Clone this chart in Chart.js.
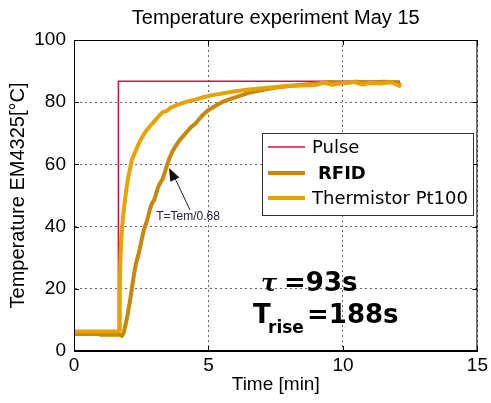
<!DOCTYPE html>
<html>
<head>
<meta charset="utf-8">
<script src="https://cdn.jsdelivr.net/npm/chart.js@4.4.1/dist/chart.umd.min.js"></script>
<style>
  html, body { margin: 0; padding: 0; background: #fff; }
</style>
</head>
<body>
<canvas id="chart" width="491" height="403"></canvas>
<script>
// -> Messdaten (Zeit in min, Temperatur in °C)
const pulseTime = [0, 1.65, 1.65, 12.1];
const pulseTemp = [6, 6, 86.7, 86.7];

const rfidTime = [0, 0.9, 1.0, 1.7, 1.78, 1.85, 1.92, 2.0, 2.08, 2.15, 2.22, 2.3, 2.38, 2.45, 2.52, 2.6,
  2.68, 2.75, 2.82, 2.9, 2.98, 3.05, 3.12, 3.2, 3.28, 3.36, 3.45, 3.55, 3.65, 3.75, 3.9, 4.05, 4.2,
  4.35, 4.5, 4.65, 4.8, 5.0, 5.25, 5.5, 5.8, 6.1, 6.5, 7.0, 7.5, 8.0, 8.5, 9.0, 9.5, 10.0, 10.5,
  11.0, 11.5, 12.0, 12.1];
const rfidTemp = [5.5, 5.5, 5.2, 5.2, 4.8, 6, 8.5, 12, 16, 20, 24, 28, 30.5, 33, 36, 39,
  41, 43, 45.5, 47.5, 48.5, 50.5, 52.5, 54, 55, 57, 59.5, 62, 64, 65.5, 67.5, 69, 70.5,
  72, 73, 74.5, 76, 77.5, 78.8, 80, 81, 81.9, 83, 83.9, 84.7, 85.2, 85.6, 86, 86.5, 86.2, 86.6,
  86.3, 86.6, 86.4, 85.8];

const thermTime = [0, 0.8, 1.6, 1.68, 1.7, 1.72, 1.75, 1.8, 1.86, 1.93, 2.0, 2.08, 2.15, 2.25, 2.35,
  2.45, 2.55, 2.7, 2.85, 3.0, 3.15, 3.3, 3.45, 3.6, 3.8, 4.0, 4.2, 4.5, 4.8, 5.1, 5.5, 6.0, 6.5,
  7.0, 7.5, 8.0, 8.5, 9.0, 9.3, 9.6, 10.0, 10.4, 10.7, 11.0, 11.4, 11.8, 12.1];
const thermTemp = [6.3, 6.3, 6.3, 6.5, 18, 28, 35, 41, 46, 51, 55, 58.5, 61.5, 63.5, 65.5,
  67.5, 69, 71, 72.5, 74, 75.5, 76.8, 77.2, 78.3, 79, 79.6, 80.2, 80.8, 81.6, 82.2, 82.8, 83.5, 84.1,
  84.5, 84.9, 85.3, 85.4, 85.6, 86.3, 85.6, 86.1, 86.6, 85.7, 86.2, 86.0, 86.4, 85.2];

const xTicks = [0, 5, 10, 15];
const yTicks = [0, 20, 40, 60, 80, 100];

const seriesNames = ["Pulse", "RFID", "Thermistor Pt100"];
const seriesColors = ["rgb(200, 20, 70)", "rgb(200, 135, 10)", "rgb(230, 163, 0)"];
const chartTitle = "Temperature experiment May 15";

function toPoints(xs, ys) {
  return xs.map((x, i) => ({ x: x, y: ys[i] }));
}

// -> Titel, Rahmen, Legende, Pfeil und Kennwerte direkt aufs Canvas
const extras = {
  id: "extras",
  afterDraw(chart) {
    const ctx = chart.ctx;
    const a = chart.chartArea;
    const sx = chart.scales.x;
    const sy = chart.scales.y;
    ctx.save();

    // Titel über der Achsenfläche
    ctx.fillStyle = "#000";
    ctx.font = "20px 'Liberation Sans'";
    ctx.textAlign = "center";
    ctx.textBaseline = "middle";
    ctx.fillText(chartTitle, (a.left + a.right) / 2, 18);

    // Rahmen oben/rechts
    ctx.strokeStyle = "#000";
    ctx.lineWidth = 1;
    ctx.strokeRect(a.left + 0.5, a.top + 0.5, a.right - a.left - 1, a.bottom - a.top - 1);

    // kurze Ticks nach innen
    ctx.beginPath();
    xTicks.forEach((v) => {
      const px = Math.round(sx.getPixelForValue(v)) + 0.5;
      ctx.moveTo(px, a.bottom); ctx.lineTo(px, a.bottom - 5);
      ctx.moveTo(px, a.top); ctx.lineTo(px, a.top + 5);
    });
    yTicks.forEach((v) => {
      const py = Math.round(sy.getPixelForValue(v)) + 0.5;
      ctx.moveTo(a.left, py); ctx.lineTo(a.left + 5, py);
      ctx.moveTo(a.right, py); ctx.lineTo(a.right - 5, py);
    });
    ctx.stroke();

    // Legende
    ctx.fillStyle = "#fff";
    ctx.fillRect(262, 133, 211, 82);
    ctx.strokeStyle = "#333";
    ctx.strokeRect(262.5, 133.5, 211, 82);
    const rows = [147, 173, 198];
    const widths = [1.5, 4, 4];
    ctx.textBaseline = "middle";
    ctx.textAlign = "left";
    for (let i = 0; i < 3; i++) {
      ctx.strokeStyle = seriesColors[i];
      ctx.lineWidth = widths[i];
      ctx.beginPath();
      ctx.moveTo(268, rows[i]);
      ctx.lineTo(305, rows[i]);
      ctx.stroke();
      ctx.fillStyle = "#000";
      if (i === 1) {
        ctx.font = "bold 18px 'DejaVu Sans'";
        ctx.fillText(seriesNames[i], 318, rows[i] + 1);
      } else {
        ctx.font = "18px 'DejaVu Sans'";
        ctx.fillText(seriesNames[i], 312, rows[i] + 1);
      }
    }

    // Pfeil zur Zeitkonstante
    ctx.strokeStyle = "#222";
    ctx.fillStyle = "#111";
    ctx.lineWidth = 1;
    ctx.beginPath();
    ctx.moveTo(190, 210);
    ctx.lineTo(172, 172);
    ctx.stroke();
    const ang = Math.atan2(168 - 210, 169 - 190);
    ctx.beginPath();
    ctx.moveTo(169, 168);
    ctx.lineTo(169 - 13 * Math.cos(ang) + 5 * Math.sin(ang), 168 - 13 * Math.sin(ang) - 5 * Math.cos(ang));
    ctx.lineTo(169 - 13 * Math.cos(ang) - 5 * Math.sin(ang), 168 - 13 * Math.sin(ang) + 5 * Math.cos(ang));
    ctx.closePath();
    ctx.fill();
    ctx.font = "12px 'Liberation Sans'";
    ctx.fillStyle = "#223";
    ctx.textAlign = "center";
    ctx.fillText("T=Tem/0.68", 188, 217);

    // Kennwerte
    ctx.textAlign = "left";
    ctx.textBaseline = "alphabetic";
    ctx.fillStyle = "#000";
    ctx.font = "italic bold 24px 'DejaVu Serif'";
    ctx.fillText("τ", 261, 291);
    ctx.font = "bold 26px 'DejaVu Sans'";
    ctx.fillText("=93s", 284, 291);
    ctx.fillText("T", 253, 323);
    ctx.font = "bold 17px 'DejaVu Sans'";
    ctx.fillText("rise", 268, 333);
    ctx.font = "bold 26px 'DejaVu Sans'";
    ctx.fillText("=188s", 307, 323);

    ctx.restore();
  }
};

const tickFont = { family: "'Liberation Sans', Arial", size: 19 };

const chart = new Chart(document.querySelector("#chart"), {
  type: "line",
  data: {
    datasets: [
      {
        label: seriesNames[0],
        data: toPoints(pulseTime, pulseTemp),
        borderColor: seriesColors[0],
        borderWidth: 1.5,
        order: 3
      },
      {
        label: seriesNames[1],
        data: toPoints(rfidTime, rfidTemp),
        borderColor: seriesColors[1],
        borderWidth: 4,
        order: 2
      },
      {
        label: seriesNames[2],
        data: toPoints(thermTime, thermTemp),
        borderColor: seriesColors[2],
        borderWidth: 4,
        order: 1
      }
    ]
  },
  options: {
    responsive: false,
    animation: false,
    devicePixelRatio: 1,
    elements: {
      point: { radius: 0 },
      line: { tension: 0, borderJoinStyle: "round", borderCapStyle: "round" }
    },
    layout: { padding: { left: 0, right: 12, top: 40, bottom: 0 } },
    plugins: {
      legend: { display: false },
      tooltip: { enabled: false },
      title: { display: false }
    },
    scales: {
      x: {
        type: "linear",
        min: 0,
        max: 15,
        afterBuildTicks: (s) => { s.ticks = xTicks.map((v) => ({ value: v })); },
        afterFit: (s) => { s.height = 52; },
        ticks: { color: "#000", font: tickFont, padding: 3, maxRotation: 0 },
        grid: { color: "#666", drawTicks: false, lineWidth: 1 },
        border: { display: true, color: "#000", dash: [2, 3] },
        title: {
          display: true,
          text: "Time [min]",
          color: "#000",
          font: { family: "'Liberation Sans', Arial", size: 19, lineHeight: 1.2 },
          padding: { top: 0, bottom: 7 }
        }
      },
      y: {
        min: 0,
        max: 100,
        afterBuildTicks: (s) => { s.ticks = yTicks.map((v) => ({ value: v })); },
        afterFit: (s) => { s.width = 74; },
        ticks: { color: "#000", font: tickFont, padding: 8 },
        grid: { color: "#666", drawTicks: false, lineWidth: 1 },
        border: { display: true, color: "#000", dash: [2, 3] },
        title: {
          display: true,
          text: "Temperature EM4325[°C]",
          color: "#000",
          font: { family: "'Liberation Sans', Arial", size: 20, lineHeight: 1.2 },
          padding: { top: 6, bottom: 0 }
        }
      }
    }
  },
  plugins: [extras]
});
</script>
</body>
</html>
